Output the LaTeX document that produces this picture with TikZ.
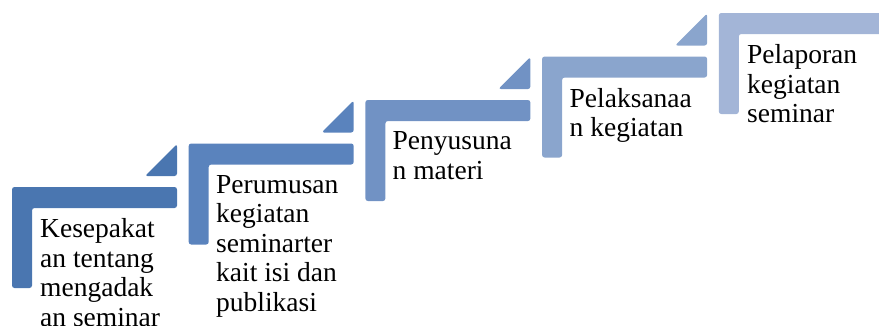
\documentclass[tikz,border=0pt]{standalone}
\usepackage{fontspec}
\setmainfont{Liberation Serif}
\definecolor{c1}{HTML}{4A76B0}
\definecolor{c2}{HTML}{5A83BD}
\definecolor{c3}{HTML}{7192C4}
\definecolor{c4}{HTML}{8AA5CD}
\definecolor{c5}{HTML}{A3B5D7}
\tikzset{
  lbox/.style={fill=#1, draw=none, rounded corners=2.5pt},
  steptext/.style={anchor=north west, align=left, inner sep=0pt, font=\fontsize{27.5}{29.5}\selectfont},
}
\newcommand{\stepshape}[3]{%
  \fill[lbox=#3] (#1,#2) -- (#1+165,#2) -- (#1+165,#2+21) -- (#1+20,#2+21) -- (#1+20,#2+101) -- (#1,#2+101) -- cycle;
  \fill[lbox=#3] (#1+133,#2-11) -- (#1+165,#2-11) -- (#1+165,#2-43) -- cycle;
}
\begin{document}
\begin{tikzpicture}[x=1pt,y=-1pt]
\useasboundingbox (0,0) rectangle (879,325);
\clip (0,0) rectangle (879,325);
\stepshape{12}{187}{c1}
\stepshape{188.7}{143.5}{c2}
\stepshape{365.4}{100}{c3}
\stepshape{542.1}{56.5}{c4}
\fill[lbox=c5] (718.8,13) -- (890,13) -- (890,34) -- (738.8,34) -- (738.8,114) -- (718.8,114) -- cycle;
\node[steptext] (t1) at (40,218.5) {Kesepakat\\an tentang\\mengadak\\an seminar};
\node[steptext] (t2) at (216,175) {Perumusan\\kegiatan\\seminarter\\kait isi dan\\publikasi};
\node[steptext] (t3) at (392.5,131.5) {Penyusuna\\n materi};
\node[steptext] (t4) at (569.5,88) {Pelaksanaa\\n kegiatan};
\node[steptext] (t5) at (747,44.5) {Pelaporan\\kegiatan\\seminar};
\end{tikzpicture}
\end{document}
